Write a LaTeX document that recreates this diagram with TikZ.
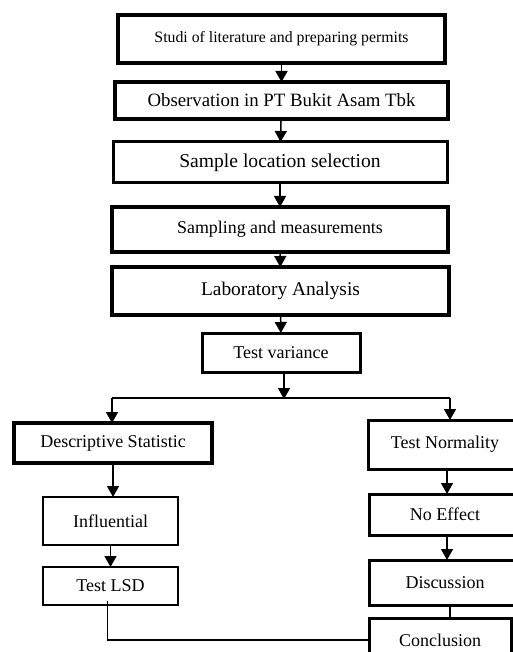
\documentclass[tikz,border=0pt]{standalone}
\usepackage{fontspec}
\setmainfont{Liberation Serif}
\usetikzlibrary{arrows.meta}
\tikzset{
  bx/.style={draw, line width=3pt, inner sep=0pt, outer sep=0pt, align=center, font=\fontsize{18}{20}\selectfont},
  heavybx/.style={bx, line width=4.2pt},
  lightbx/.style={bx, line width=2.7pt},
  arr/.style={line width=1.5pt, -{Triangle[width=12pt,length=11pt]}},
  ln/.style={line width=1.4pt}
}
\begin{document}
\begin{tikzpicture}[x=1pt,y=-1pt]
\useasboundingbox (0,0) rectangle (513,652);
\clip (0,0) rectangle (513,652);
% top chain
\node[heavybx, minimum width=327pt, minimum height=48pt, font=\fontsize{15.8}{18}\selectfont] (b1) at (281.5,39) {Studi of literature and preparing permits};
\node[heavybx, minimum width=333pt, minimum height=37pt, font=\fontsize{18.8}{20}\selectfont] (b2) at (281.5,100.5) {Observation in PT Bukit Asam Tbk};
\node[bx, minimum width=334pt, minimum height=41pt, font=\fontsize{19.6}{21}\selectfont] (b3) at (280,162.5) {Sample location selection};
\node[heavybx, minimum width=336pt, minimum height=45pt, font=\fontsize{17.9}{20}\selectfont] (b4) at (280,229.5) {Sampling and measurements};
\node[heavybx, minimum width=337pt, minimum height=48pt, font=\fontsize{19.4}{21}\selectfont] (b5) at (280.5,291) {Laboratory Analysis};
\node[bx, minimum width=158pt, minimum height=39pt] (b6) at (281,352.5) {Test variance};
% left branch
\node[heavybx, minimum width=198pt, minimum height=40pt] (ds) at (113,443) {Descriptive Statistic};
\node[lightbx, minimum width=135pt, minimum height=48pt] (inf) at (110.5,521) {Influential};
\node[lightbx, minimum width=135pt, minimum height=38pt] (lsd) at (110.5,586) {Test LSD};
% right branch
\node[bx, minimum width=154pt, minimum height=49pt] (tn) at (445,444.5) {Test Normality};
\node[bx, minimum width=152pt, minimum height=41pt] (ne) at (445,514.5) {No Effect};
\node[bx, minimum width=152pt, minimum height=45pt] (disc) at (445,582.5) {Discussion};
\node[bx, minimum width=142pt, minimum height=44pt] (conc) at (440,640) {Conclusion};
% split line
\coordinate (sl) at (112,398);
\coordinate (sr) at (450,398);
% connectors
\draw[arr] (b1) -- (b2);
\draw[arr] (b2) -- (b3);
\draw[arr] (b3) -- (b4);
\draw[arr] (b4) -- (b5);
\draw[arr] (b5) -- (b6);
\draw[arr] ([xshift=3pt]b6.south) -- ([xshift=3pt,yshift=-1pt]b6.south |- sl);
\draw[ln] (sl) -- (sr);
\draw[arr] (sl) -- (sl |- ds.north);
\draw[arr] (sr) -- (sr |- tn.north);
\draw[arr] (ds) -- (ds |- inf.north);
\draw[arr] (inf) -- (lsd);
\draw[arr] ([xshift=2pt]tn.south) -- ([xshift=2pt]ne.north);
\draw[arr] ([xshift=2pt]ne.south) -- ([xshift=2pt]disc.north);
\draw[ln] ([xshift=5pt]disc.south) -- ([xshift=5pt]disc.south |- conc.north);
\draw[ln] ([xshift=-3pt,yshift=4pt]lsd.south) |- (conc.west);
\end{tikzpicture}
\end{document}
